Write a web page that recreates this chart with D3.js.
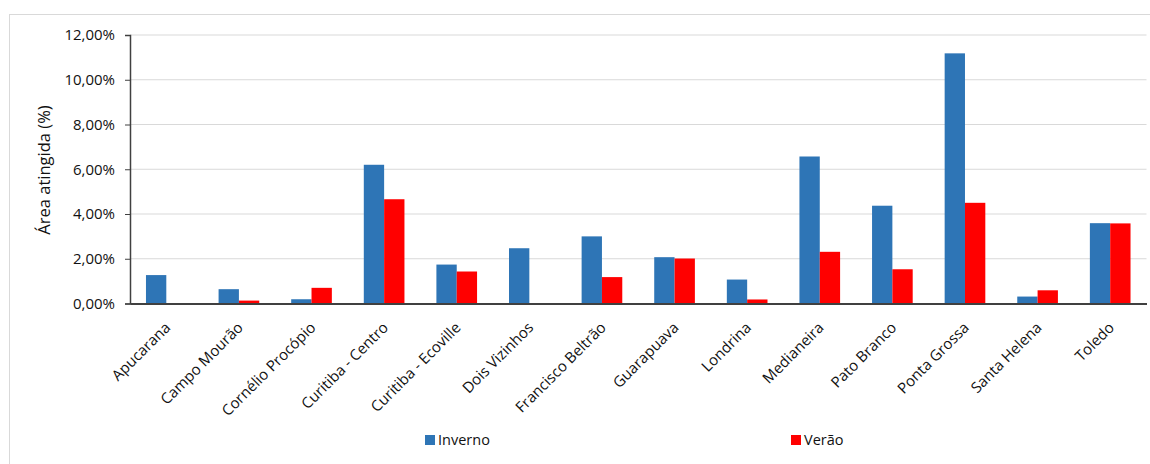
<!DOCTYPE html>
<html><head><meta charset="utf-8">
<script src="https://cdn.jsdelivr.net/npm/d3@7"></script>
<style>body{margin:0;background:#fff;}svg{display:block;font-family:"Open Sans","Noto Sans",sans-serif;}</style>
</head><body>
<svg id="c" width="1150" height="464"></svg>
<script>
const categories = ["Apucarana","Campo Mourão","Cornélio Procópio","Curitiba - Centro","Curitiba - Ecoville","Dois Vizinhos","Francisco Beltrão","Guarapuava","Londrina","Medianeira","Pato Branco","Ponta Grossa","Santa Helena","Toledo"];
const seriesNames = ["Inverno","Verão"];
const inverno = [1.27,0.64,0.19,6.20,1.74,2.47,3.00,2.07,1.07,6.57,4.37,11.18,0.31,3.59];
const verao = [0,0.13,0.70,4.66,1.43,0,1.18,2.01,0.18,2.31,1.53,4.50,0.59,3.58];
const yTicks = [0,2,4,6,8,10,12];
const colors = ["#2E75B6","#FF0000"];

(function(){
const FONT = '"Open Sans","Noto Sans",sans-serif';
const svg = d3.select("#c");
svg.append("rect").attr("x",9.5).attr("y",14.5).attr("width",1150).attr("height",460)
  .attr("fill","none").attr("stroke","#d9d9d9");

const pLeft=130, pRight=1146.5, pTop=35, pBottom=303.5;
const x = d3.scaleBand().domain(categories).range([pLeft,pRight]).paddingInner(0.44).paddingOuter(0.22);
const xs = d3.scaleBand().domain(seriesNames).range([0,x.bandwidth()]);
const y = d3.scaleLinear().domain([0,12]).range([pBottom,pTop]);

svg.append("g").selectAll("line").data(yTicks.filter(d=>d>0)).join("line")
  .attr("x1",pLeft).attr("x2",pRight).attr("y1",d=>y(d)).attr("y2",d=>y(d))
  .attr("stroke","#d9d9d9").attr("stroke-width",1.2);

const data = categories.map((c,i)=>({c, vals:[inverno[i],verao[i]]}));
const g = svg.append("g").selectAll("g").data(data).join("g")
  .attr("transform",d=>`translate(${x(d.c)},0)`);
g.selectAll("rect").data(d=>d.vals.map((v,j)=>({v,s:seriesNames[j],j}))).join("rect")
  .attr("x",d=>xs(d.s)).attr("width",xs.bandwidth())
  .attr("y",d=>y(d.v)).attr("height",d=>y(0)-y(d.v))
  .attr("fill",d=>colors[d.j]);

const ya = svg.append("g").attr("transform",`translate(${pLeft},0)`)
  .call(d3.axisLeft(y).tickValues(yTicks).tickSize(5).tickPadding(10)
    .tickFormat(d=>d3.format(".2f")(d).replace(".",",")+"%"))
  .attr("font-family",FONT);
ya.select(".domain").attr("stroke","#404040").attr("stroke-width",1.5);
ya.selectAll(".tick line").attr("stroke","#404040");
ya.selectAll("text").attr("font-size",15).attr("fill","#111");

const xa = svg.append("g").attr("transform",`translate(0,${pBottom})`)
  .call(d3.axisBottom(x).tickSize(0).tickSizeOuter(0))
  .attr("font-family",FONT);
xa.select(".domain").attr("stroke","#404040").attr("stroke-width",2);
xa.selectAll("text").attr("font-size",15).attr("fill","#111")
  .attr("text-anchor","end").attr("dy",0).attr("y",0)
  .attr("transform","translate(5,25) rotate(-45)");

svg.append("text").attr("transform","translate(50,170) rotate(-90)")
  .attr("text-anchor","middle").attr("font-size",16.5).attr("font-family",FONT).attr("fill","#111").text("Área atingida (%)");

const legX=[425,791];
seriesNames.forEach((s,i)=>{
  svg.append("rect").attr("x",legX[i]).attr("y",435).attr("width",10).attr("height",10).attr("fill",colors[i]);
  svg.append("text").attr("x",legX[i]+13).attr("y",445).attr("font-size",14.5).attr("font-family",FONT).attr("fill","#111").text(s);
});
})();
</script>
</body></html>
